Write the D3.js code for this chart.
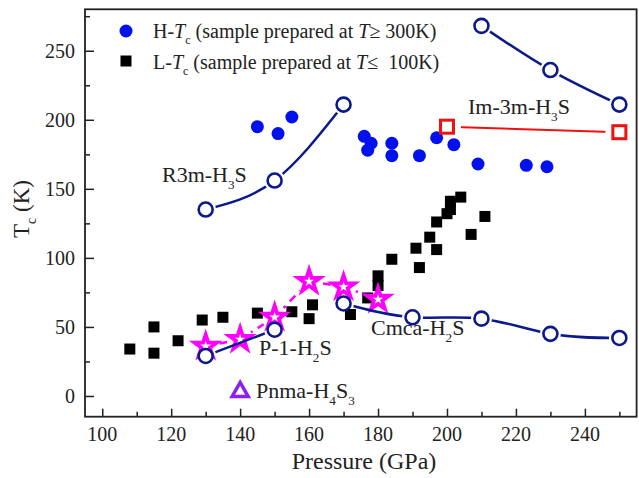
<!DOCTYPE html>
<html>
<head>
<meta charset="utf-8">
<script src="https://cdn.jsdelivr.net/npm/d3@7"></script>
<style>
  body { margin: 0; background: #fff; }
  text, tspan { font-family: "Liberation Serif", serif !important; }
</style>
</head>
<body>
<svg id="chart" width="639" height="478"></svg>
<script>
var highTc = [[145,195],[151,190],[155,202],[176,188],[178,183],[177,178],[184,183],
              [184,174],[192,174],[197,187],[202,182],[209,168],[223,167],[229,166]];
var lowTc = [[108,34],[115,50],[115,31],[122,40],[129,55],[135,57],[145,60],[155,61],
             [160,56],[161,66],[172,59],[177,71],[180,80],[180,87],[184,99],[191,107],
             [192,93],[195,115],[197,106],[197,126],[200,132],[201,135],[201,141],
             [204,144],[207,117],[211,130]];
// calculated curves
var r3m = [[130,135],[150,156],[170,211]];
var im3mTop = [[210,268],[230,236],[250,211]];
var im3m = [[200,195],[250,191]];
var cmca = [[170,67],[190,57],[210,56],[230,45],[250,42]];
var p1 = [[130,29],[150,48]];
var stars = [[130,36],[140,41],[150,57],[160,83],[170,79],[180,70]];
var pnma = [[140,4]];
var xTicks = [100,120,140,160,180,200,220,240];
var yTicks = [0,50,100,150,200,250];

var svg = d3.select("#chart");
var x = d3.scaleLinear().domain([95,255]).range([85,636.6]);
var y = d3.scaleLinear().domain([-15,280]).range([416.7,9.3]);

var navy = "#0b1a8a", blue = "#0011ee", red = "#f01010", magenta = "#ff00ff", violet = "#8a1ff0";

// text with italic / subscript pieces, anchored by measuring
function rich(x0, y0, parts, size, anchor){
  var t = svg.append("text").attr("x", x0).attr("y", y0).attr("font-size", size)
    .attr("fill", "#222").attr("xml:space", "preserve");
  var shift = 0;
  parts.forEach(function(p){
    var s = t.append("tspan").text(p[0]);
    var want = p[1] == "sub" ? size*0.3 : 0;
    if (want != shift) { s.attr("dy", want - shift); shift = want; }
    if (p[1] == "sub") s.attr("font-size", size*0.6);
    if (p[1] == "i") s.attr("font-style", "italic");
  });
  var w = t.node().getComputedTextLength();
  if (anchor == "middle") t.attr("x", x0 - w/2);
  if (anchor == "end") t.attr("x", x0 - w);
  return t;
}

// axes, ticks point inward; labels drawn separately
svg.append("g").attr("transform", "translate(0,416.7)")
  .call(d3.axisBottom(x).tickValues(d3.range(110,256,20)).tickSize(-5).tickFormat(""))
  .call(g => g.select(".domain").remove());
svg.append("g").attr("transform", "translate(0,416.7)")
  .call(d3.axisBottom(x).tickValues(xTicks).tickSize(-8).tickFormat(""))
  .call(g => g.select(".domain").remove());
svg.append("g").attr("transform", "translate(85,0)")
  .call(d3.axisLeft(y).tickValues([25,75,125,175,225,275]).tickSize(-5).tickFormat(""))
  .call(g => g.select(".domain").remove());
svg.append("g").attr("transform", "translate(85,0)")
  .call(d3.axisLeft(y).tickValues(yTicks).tickSize(-9).tickFormat(""))
  .call(g => g.select(".domain").remove());
svg.selectAll(".tick line").attr("stroke", "#222").attr("stroke-width", 1.5);
xTicks.forEach(v => rich(x(v), 441, [[String(v)]], 20, "middle"));
yTicks.forEach(v => rich(75, y(v) + 7, [[String(v)]], 20, "end"));

svg.append("rect").attr("x", 85).attr("y", 9.3).attr("width", 551.6).attr("height", 407.4)
  .attr("fill", "none").attr("stroke", "#222").attr("stroke-width", 1.8);

// a mask that cuts the line around its own symbols
var defs = svg.append("defs");
function gapMask(id, pts, r){
  var m = defs.append("mask").attr("id", id).attr("maskUnits", "userSpaceOnUse")
    .attr("x", 0).attr("y", 0).attr("width", 639).attr("height", 478);
  m.append("rect").attr("width", 639).attr("height", 478).attr("fill", "#fff");
  m.selectAll("circle").data(pts).enter().append("circle")
    .attr("cx", d => x(d[0])).attr("cy", d => y(d[1])).attr("r", r).attr("fill", "#000");
  return "url(#" + id + ")";
}

var line = d3.line().x(d => x(d[0])).y(d => y(d[1]));
var curve = d3.line().x(d => x(d[0])).y(d => y(d[1])).curve(d3.curveNatural);

// L-Tc squares
svg.append("g").selectAll("rect").data(lowTc).enter().append("rect")
  .attr("x", d => x(d[0]) - 5.5).attr("y", d => y(d[1]) - 5.5)
  .attr("width", 11).attr("height", 11).attr("fill", "#000");

// H-Tc dots
svg.append("g").selectAll("circle").data(highTc).enter().append("circle")
  .attr("cx", d => x(d[0])).attr("cy", d => y(d[1])).attr("r", 6.5).attr("fill", blue);

// stars with dashed link
svg.append("path").attr("d", line(stars)).attr("fill", "none").attr("stroke", magenta)
  .attr("stroke-width", 2.5).attr("stroke-dasharray", "8,6").attr("mask", gapMask("mStar", stars, 13));
svg.append("g").selectAll("path").data(stars).enter().append("path")
  .attr("d", d3.symbol(d3.symbolStar, 150)())
  .attr("transform", d => "translate(" + x(d[0]) + "," + y(d[1]) + ")")
  .attr("fill", "#fff").attr("stroke", magenta).attr("stroke-width", 3.8).attr("stroke-linejoin", "miter");

// navy curves with open circles
[["mR3m", r3m, curve], ["mTop", im3mTop, curve], ["mCmca", cmca, curve], ["mP1", p1, line]]
  .forEach(function(s){
    svg.append("path").attr("d", s[2](s[1])).attr("fill", "none").attr("stroke", navy)
      .attr("stroke-width", 2.5).attr("mask", gapMask(s[0], s[1], 10.5));
  });
svg.append("g").selectAll("circle").data(r3m.concat(im3mTop, cmca, p1)).enter().append("circle")
  .attr("cx", d => x(d[0])).attr("cy", d => y(d[1])).attr("r", 7)
  .attr("fill", "#fff").attr("stroke", navy).attr("stroke-width", 2.6);

// Im-3m red
svg.append("path").attr("d", line(im3m)).attr("fill", "none").attr("stroke", red)
  .attr("stroke-width", 2).attr("mask", gapMask("mIm", im3m, 14));
svg.append("g").selectAll("rect").data(im3m).enter().append("rect")
  .attr("x", d => x(d[0]) - 6.5).attr("y", d => y(d[1]) - 6.5)
  .attr("width", 13).attr("height", 13).attr("fill", "#fff").attr("stroke", red).attr("stroke-width", 3);

// Pnma triangle
svg.append("g").selectAll("path").data(pnma).enter().append("path")
  .attr("d", "M0,-8L8,6L-8,6Z")
  .attr("transform", d => "translate(" + x(d[0]) + "," + y(d[1]) + ")")
  .attr("fill", "#fff").attr("stroke", violet).attr("stroke-width", 3.5).attr("stroke-linejoin", "miter");

// phase labels
rich(468, 114, [["Im-3m-H"], ["3","sub"], ["S"]], 22);
rich(162, 182, [["R3m-H"], ["3","sub"], ["S"]], 22);
rich(259, 355, [["P-1-H"], ["2","sub"], ["S"]], 22);
rich(371, 335, [["Cmca-H"], ["2","sub"], ["S"]], 22);
rich(256, 398, [["Pnma-H"], ["4","sub"], ["S"], ["3","sub"]], 22);

// legend
svg.append("circle").attr("cx", 126).attr("cy", 31).attr("r", 6.5).attr("fill", blue);
svg.append("rect").attr("x", 120.5).attr("y", 55.5).attr("width", 11).attr("height", 11).attr("fill", "#000");
rich(153, 38, [["H-"], ["T","i"], ["c","sub"], [" (sample prepared at "], ["T","i"], ["\u2265 300K)"]], 20);
rich(153, 69, [["L-"], ["T","i"], ["c","sub"], [" (sample prepared at "], ["T","i"], ["\u2264  100K)"]], 20);

// axis titles
rich(364, 469, [["Pressure (GPa)"]], 24, "middle");
var yt = rich(0, 0, [["T"], ["c","sub"], [" (K)"]], 23, "middle");
yt.attr("transform", "translate(29,209) rotate(-90)");
</script>
</body>
</html>
